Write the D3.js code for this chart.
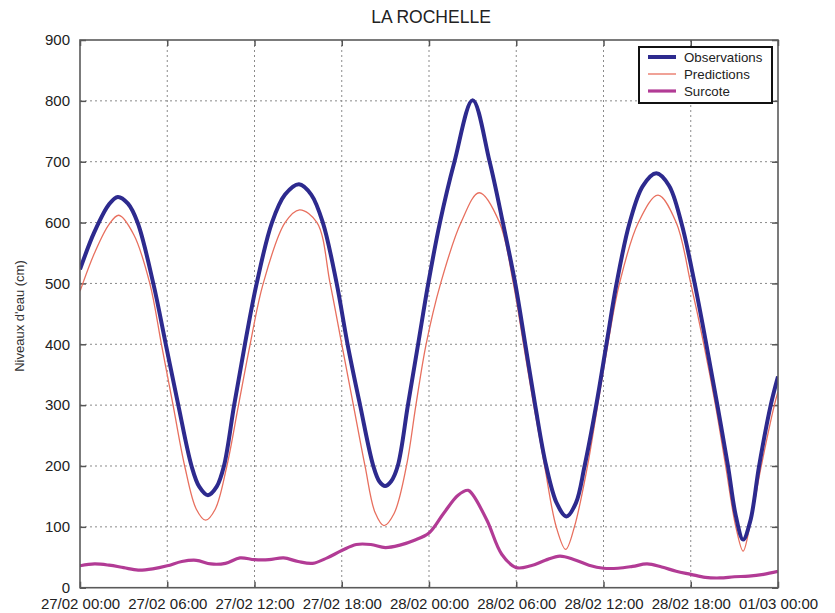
<!DOCTYPE html>
<html>
<head>
<meta charset="utf-8">
<script src="https://cdn.jsdelivr.net/npm/d3@7"></script>
<style>
  html, body { margin: 0; padding: 0; background: #fff; }
  svg { display: block; font-family: "Liberation Sans", Arial, sans-serif; }
</style>
</head>
<body>
<svg id="chart" width="835" height="613"></svg>
<script>
// ---- Data (time in hours since 27/02 00:00) ----
const obsHours = [0, 1, 2, 2.6, 3.3, 3.96, 5.04, 5.9, 6.76, 7.67, 8.2, 8.8, 9.4, 9.9, 10.6,
  11.34, 12.15, 13.2, 14.1, 15.06, 15.9, 16.7, 17.65, 18.4, 19.26, 20.17, 20.6, 20.98, 21.4, 21.85,
  22.55, 23.25, 23.95, 24.75, 25.75, 27.0, 28.17, 29.08, 29.93, 30.62, 31.3, 32.06, 32.8, 33.45, 34.1,
  34.7, 35.5, 36.2, 36.9, 37.8, 38.7, 39.63, 40.5, 41.35, 42.27, 43.07, 43.83, 44.56, 45.1, 45.6,
  46.1, 46.7, 47.5, 48];
const observations = [523, 585, 630, 642, 631, 600, 500, 400, 300, 200, 166, 152, 166, 200, 300,
  400, 500, 600, 646, 663, 646, 600, 500, 400, 300, 200, 174, 167, 175, 200,
  300, 400, 500, 600, 700, 801, 700, 600, 500, 400, 300, 200, 138, 117, 139,
  200, 300, 400, 500, 600, 660, 681, 661, 600, 500, 400, 300, 200, 118, 79,
  110, 200, 300, 347];

const predHours = [0, 1, 2, 2.67, 3.7, 4.8, 5.6, 6.4, 7.2, 8.0, 8.64, 9.3, 10.1, 10.9, 11.7,
  12.6, 14.1, 15.1, 16.3, 17.2, 18.0, 18.8, 19.6, 20.3, 20.9, 21.6, 22.45, 23.1, 23.8, 24.8,
  26.2, 27.45, 28.85, 29.8, 30.5, 31.2, 31.95, 32.75, 33.4, 34.0, 34.9, 35.6, 36.3, 37.1, 38.4,
  39.75, 41.0, 42.0, 42.9, 43.7, 44.4, 45.1, 45.6, 46.05, 46.85, 47.75, 48];
const predictions = [487, 550, 597, 612, 580, 500, 400, 300, 200, 129, 111, 129, 200, 300, 400,
  500, 600, 621, 600, 500, 400, 300, 200, 123, 102, 122, 200, 300, 400, 500,
  600, 649, 600, 500, 400, 300, 200, 100, 63, 100, 200, 300, 400, 500, 600,
  645, 600, 500, 400, 300, 200, 100, 60, 100, 200, 300, 322];

const surHours = [0, 1, 2, 3, 4, 5, 6, 7, 8, 9, 10, 11, 12, 13, 14, 15, 16, 17, 18, 19, 20, 21,
  22, 23, 24, 25, 26, 26.7, 27, 28, 29, 30, 31, 32, 33, 34, 35, 36, 37, 38, 39, 40, 41, 42, 43,
  44, 45, 46, 47, 48];
const surcote = [36, 39, 37, 33, 29, 31, 36, 43, 45, 39, 40, 49, 46, 46, 49, 43, 40, 49, 61, 71, 71,
  66, 70, 78, 90, 122, 152, 160, 153, 110, 55, 33, 36, 45, 52, 46, 37, 32, 32, 35, 39, 34, 27,
  22, 17, 16, 18, 19, 22, 27];

const xTickHours = [0, 6, 12, 18, 24, 30, 36, 42, 48];
const xTickLabels = ["27/02 00:00", "27/02 06:00", "27/02 12:00", "27/02 18:00",
  "28/02 00:00", "28/02 06:00", "28/02 12:00", "28/02 18:00", "01/03 00:00"];
const yTicks = [0, 100, 200, 300, 400, 500, 600, 700, 800, 900];
const seriesNames = ["Observations", "Predictions", "Surcote"];
const seriesColors = ["#2d2a8e", "#e8705f", "#b23b95"];
const seriesWidths = [4, 1.3, 3.2];
const title = "LA ROCHELLE";
const yLabel = "Niveaux d'eau (cm)";

// ---- Layout ----
const svg = d3.select("#chart");
const L = 80, R = 778, T = 40, B = 587.7;

const x = d3.scaleLinear().domain([0, 48]).range([L, R]);
const y = d3.scaleLinear().domain([0, 900]).range([B, T]);

// grid
const grid = svg.append("g").attr("stroke", "#8a8a8a").attr("stroke-width", 1)
  .attr("stroke-dasharray", "2,3");
xTickHours.slice(1, -1).forEach(h => {
  grid.append("line").attr("x1", x(h)).attr("x2", x(h)).attr("y1", T).attr("y2", B);
});
yTicks.slice(1, -1).forEach(v => {
  grid.append("line").attr("x1", L).attr("x2", R).attr("y1", y(v)).attr("y2", y(v));
});

// axes (ticks inside)
const axisStyle = g => {
  g.select(".domain").remove();
  g.selectAll(".tick line").attr("stroke", "#555").attr("stroke-width", 1.5);
  g.selectAll(".tick text").attr("fill", "#222").style("font-size", "15px")
    .style("font-family", "'Liberation Sans', Arial, sans-serif");
};
svg.append("g").attr("transform", `translate(0,${B})`)
  .call(d3.axisBottom(x).tickValues(xTickHours).tickSizeInner(-6).tickSizeOuter(0)
    .tickPadding(11).tickFormat((d, i) => xTickLabels[i]))
  .call(axisStyle);
svg.append("g").attr("transform", `translate(0,${T})`)
  .call(d3.axisTop(x).tickValues(xTickHours).tickSizeInner(-6).tickSizeOuter(0).tickFormat(""))
  .call(axisStyle);
svg.append("g").attr("transform", `translate(${L},0)`)
  .call(d3.axisLeft(y).tickValues(yTicks).tickSizeInner(-6).tickSizeOuter(0).tickPadding(10))
  .call(axisStyle);
svg.append("g").attr("transform", `translate(${R},0)`)
  .call(d3.axisRight(y).tickValues(yTicks).tickSizeInner(-6).tickSizeOuter(0).tickFormat(""))
  .call(axisStyle);

// curves
const clipId = "plotclip";
svg.append("clipPath").attr("id", clipId).append("rect")
  .attr("x", L).attr("y", T).attr("width", R - L).attr("height", B - T);
const curves = svg.append("g").attr("clip-path", `url(#${clipId})`);
const series = [
  { t: obsHours, v: observations },
  { t: predHours, v: predictions },
  { t: surHours, v: surcote }
];
const drawOrder = [1, 0, 2];
drawOrder.forEach(k => {
  const s = series[k];
  const line = d3.line()
    .x((d, i) => x(s.t[i])).y(d => y(d))
    .curve(d3.curveCatmullRom.alpha(0.5));
  curves.append("path").datum(s.v).attr("d", line)
    .attr("fill", "none").attr("stroke", seriesColors[k])
    .attr("stroke-width", seriesWidths[k]).attr("stroke-linejoin", "round");
});

// frame
svg.append("rect").attr("x", L).attr("y", T).attr("width", R - L).attr("height", B - T)
  .attr("fill", "none").attr("stroke", "#5a5a5a").attr("stroke-width", 1.6);

// title
svg.append("text").attr("x", 431).attr("y", 23).attr("text-anchor", "middle")
  .style("font-size", "17.5px").attr("fill", "#222").text(title);

// y label
svg.append("text").attr("transform", "translate(24,316) rotate(-90)")
  .attr("text-anchor", "middle").style("font-size", "13px").attr("fill", "#333").text(yLabel);

// legend
const lg = svg.append("g");
lg.append("rect").attr("x", 639).attr("y", 47).attr("width", 133).attr("height", 56)
  .attr("fill", "#fff").attr("stroke", "#111").attr("stroke-width", 2);
seriesNames.forEach((name, i) => {
  const yy = 57 + i * 17;
  lg.append("line").attr("x1", 648).attr("x2", 676).attr("y1", yy).attr("y2", yy)
    .attr("stroke", seriesColors[i]).attr("stroke-width", seriesWidths[i]);
  lg.append("text").attr("x", 684).attr("y", yy + 4.5).style("font-size", "13.3px")
    .attr("fill", "#222").text(name);
});
</script>
</body>
</html>
